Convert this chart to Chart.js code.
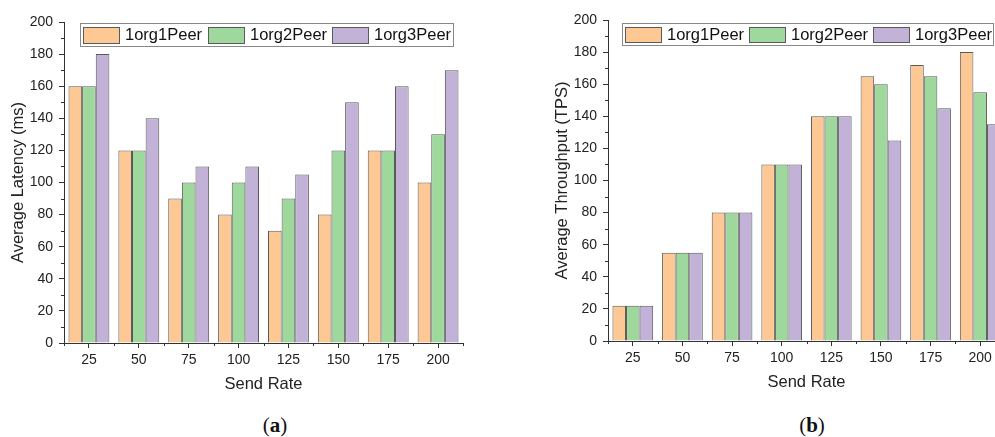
<!DOCTYPE html>
<html><head><meta charset="utf-8">
<script src="https://cdn.jsdelivr.net/npm/chart.js@4.4.0/dist/chart.umd.min.js"></script>
<style>
html,body{margin:0;padding:0;background:#fff;width:995px;height:437px;overflow:hidden;position:relative;}
#wa{position:absolute;left:0;top:0;width:470px;height:405px;}
#wb{position:absolute;left:530px;top:-2px;width:480px;height:405px;}
.cap{position:absolute;top:410px;font-family:"Liberation Serif","DejaVu Serif",serif;font-size:21px;color:#111;transform:translateX(-50%);line-height:30px;white-space:nowrap}
</style></head><body>
<div id="wa"><canvas id="ca" width="470" height="405"></canvas></div>
<div id="wb"><canvas id="cb" width="480" height="405"></canvas></div>
<div class="cap" style="left:275px">(<b>a</b>)</div>
<div class="cap" style="left:812px">(<b>b</b>)</div>
<script>
const categories = ['25','50','75','100','125','150','175','200'];
const seriesNames = ['1org1Peer','1org2Peer','1org3Peer'];
const latency1org1Peer = [160,120,90,80,70,80,120,100];
const latency1org2Peer = [160,120,100,100,90,120,120,130];
const latency1org3Peer = [180,140,110,110,105,150,160,170];
const throughput1org1Peer = [22,55,80,110,140,165,172,180];
const throughput1org2Peer = [22,55,80,110,140,160,165,155];
const throughput1org3Peer = [22,55,80,110,140,125,145,135];
const yTicksMajor = [0,20,40,60,80,100,120,140,160,180,200];

const fills = ['#FDC894','#9ED89C','#C3B2D7'];
const edge = '#5a5a5a';
const FONT = '"Liberation Sans", Arial, sans-serif';

const minorTicks = {
  id:'minorTicks',
  afterDraw(chart){
    const ctx = chart.ctx, x = chart.scales.x, y = chart.scales.y;
    ctx.save(); ctx.strokeStyle = '#333'; ctx.lineWidth = 1; ctx.beginPath();
    for (let i = 0; i < yTicksMajor.length - 1; i++) {
      const v = (yTicksMajor[i] + yTicksMajor[i+1]) / 2;
      const p = Math.round(y.getPixelForValue(v)) + 0.5;
      ctx.moveTo(y.right - 3, p); ctx.lineTo(y.right, p);
    }
    for (let i = 0; i <= categories.length; i++) {
      const p = Math.round(x.getPixelForValue(i - 0.5)) + 0.5;
      ctx.moveTo(p, x.top); ctx.lineTo(p, x.top + 3);
    }
    ctx.stroke(); ctx.restore();
  }
};

const boxLegend = {
  id:'boxLegend',
  afterDraw(chart, args, opts){
    const ctx = chart.ctx, a = chart.chartArea;
    const L = a.left + opts.dx, T = a.top + opts.dy;
    ctx.save();
    ctx.fillStyle = '#fff';
    ctx.fillRect(L, T, opts.w, opts.h);
    ctx.strokeStyle = '#888'; ctx.lineWidth = 1;
    ctx.strokeRect(Math.round(L)+0.5, Math.round(T)+0.5, opts.w, opts.h);
    ctx.font = '16.5px ' + FONT; ctx.textBaseline = 'middle'; ctx.fillStyle = '#111';
    chart.data.datasets.forEach((ds, i) => {
      const sx = Math.round(L + 3 + i * opts.stride);
      ctx.fillStyle = ds.backgroundColor;
      ctx.fillRect(sx, T + 4, 36, opts.h - 6);
      ctx.strokeStyle = edge;
      ctx.strokeRect(sx + 0.5, Math.round(T) + 4.5, 36, opts.h - 7);
      ctx.fillStyle = '#111';
      ctx.fillText(ds.label, sx + 42, T + opts.h / 2 + 1);
    });
    ctx.restore();
  }
};

function makeChart(id, data, yTitle, yW, yTitlePad, padRight, legendOpts){
  return new Chart(document.getElementById(id), {
    type:'bar',
    data:{
      labels: categories,
      datasets: data.map((d,i)=>({label: seriesNames[i], data: d, backgroundColor: fills[i], borderColor: edge, borderWidth: 1,
        categoryPercentage: 0.82, barPercentage: 1.0}))
    },
    options:{
      responsive:false, animation:false, devicePixelRatio:1,
      layout:{padding:{top:22, right:padRight, left:0, bottom:0}},
      plugins:{legend:{display:false}, tooltip:{enabled:false}, boxLegend: legendOpts},
      scales:{
        x:{
          offset:true,
          grid:{offset:false, drawOnChartArea:false, drawTicks:true, tickLength:5, color:'#333'},
          border:{display:true, color:'#333', width:1},
          ticks:{font:{family:FONT, size:14}, color:'#222', padding:4, maxRotation:0},
          title:{display:true, text:'Send Rate', font:{family:FONT, size:16.5}, color:'#222', padding:{top:4, bottom:11}},
          afterFit(s){ s.height = 62; }
        },
        y:{
          min:0, max:200,
          afterBuildTicks(s){ s.ticks = yTicksMajor.map(v=>({value:v})); },
          grid:{drawOnChartArea:false, drawTicks:true, tickLength:5, color:'#333'},
          border:{display:true, color:'#333', width:1},
          ticks:{font:{family:FONT, size:14}, color:'#222', padding:6},
          title:{display:true, text:yTitle, font:{family:FONT, size:16.5}, color:'#222', padding:{top:yTitlePad, bottom:0}},
          afterFit(s){ s.width = yW; }
        }
      }
    },
    plugins:[minorTicks, boxLegend]
  });
}

makeChart('ca', [latency1org1Peer, latency1org2Peer, latency1org3Peer], 'Average Latency (ms)', 64, 9, 7,
  {dx:16, dy:1, w:373, h:23, stride:124.5});
makeChart('cb', [throughput1org1Peer, throughput1org2Peer, throughput1org3Peer], 'Average Throughput (TPS)', 78, 23, 5,
  {dx:14, dy:3, w:371, h:22, stride:124});
</script>
</body></html>
